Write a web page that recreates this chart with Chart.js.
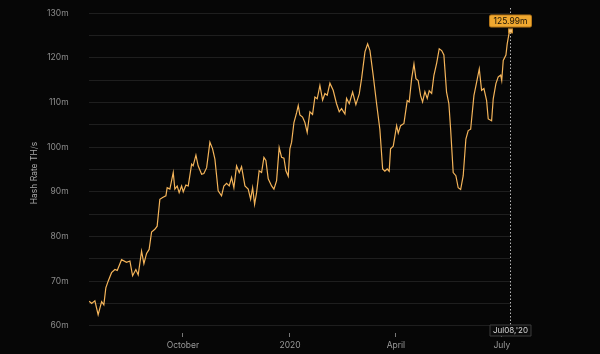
<!DOCTYPE html>
<html>
<head>
<meta charset="utf-8">
<script src="https://cdn.jsdelivr.net/npm/chart.js@4.4.0/dist/chart.umd.min.js"></script>
<style>
html, body { margin: 0; padding: 0; background: #060606; }
</style>
</head>
<body>
<canvas id="myChart" width="600" height="354"></canvas>
<script>
// days since 1 Oct 2019
const dayIndex = [
    -80.5, -78.4, -75.6, -72.8, -69.8, -67.9, -66.2, -64.2, -61.3, -58.4,
    -56.4, -52.7, -48.4, -45.5, -43.2, -40.4, -38.4, -35.5, -33.5, -31.2,
    -29.0, -26.9, -24.1, -22.1, -19.8, -17.4, -14.6, -13.5, -11.2, -8.3,
    -6.9, -4.9, -3.2, -1.1, 0.3, 2.6, 4.6, 7.5, 8.8, 11.2,
    13.1, 16.1, 18.0, 20.4, 23.2, 25.5, 27.5, 30.3, 33.2, 35.2,
    37.5, 39.8, 41.8, 43.8, 46.1, 48.4, 50.4, 53.3, 56.1, 58.2,
    59.9, 61.6, 63.3, 65.5, 67.6, 69.6, 71.3, 73.3, 76.2, 78.2,
    80.5, 82.7, 84.8, 86.8, 88.5, 90.5, 91.9, 93.4, 95.4, 97.7,
    99.1, 100.5, 102.8, 104.8, 106.8, 109.1, 111.4, 113.4, 115.4, 117.7,
    120.0, 122.0, 124.0, 126.3, 129.1, 132.0, 134.3, 136.3, 139.2, 140.6,
    142.9, 145.8, 148.6, 151.5, 153.5, 156.4, 158.7, 160.7, 163.5, 166.4,
    169.2, 171.6, 173.5, 175.5, 177.2, 178.4, 180.7, 183.6, 185.0, 187.0,
    189.9, 192.7, 194.4, 196.5, 198.5, 200.2, 202.1, 204.2, 205.9, 207.9,
    209.9, 211.6, 213.7, 215.6, 218.0, 220.2, 222.3, 224.2, 226.5, 228.5,
    230.0, 232.2, 234.5, 236.5, 238.6, 240.8, 243.1, 245.1, 247.2, 250.0,
    252.3, 254.6, 256.6, 258.6, 260.9, 262.3, 265.2, 266.6, 268.9, 270.9,
    273.0, 273.9, 275.2, 277.5, 278.6, 280.1, 281.0
];

const hashRate = [
    65.5, 65.0, 65.6, 62.5, 65.4, 64.7, 68.5, 70.0, 71.9, 72.6,
    72.4, 74.8, 74.2, 74.5, 71.2, 72.6, 71.4, 76.7, 73.9, 76.2,
    77.1, 81.0, 81.6, 82.3, 88.3, 88.7, 89.1, 90.9, 90.6, 94.3,
    90.6, 91.3, 89.8, 91.3, 90.0, 91.5, 91.3, 96.2, 95.8, 98.2,
    95.8, 93.9, 94.1, 95.4, 101.1, 99.6, 97.3, 90.2, 89.1, 91.3,
    91.9, 91.3, 93.2, 90.9, 95.8, 94.3, 95.6, 91.3, 90.6, 88.3,
    90.9, 87.2, 89.8, 94.7, 94.3, 97.7, 97.0, 92.9, 91.3, 90.6,
    92.5, 99.9, 97.7, 97.5, 94.7, 93.5, 99.6, 101.1, 105.5, 107.7,
    109.3, 107.2, 106.7, 105.5, 103.3, 107.9, 107.3, 111.2, 110.8, 113.8,
    110.5, 112.0, 111.6, 114.3, 112.7, 109.7, 107.9, 108.6, 107.4, 110.9,
    109.7, 112.3, 109.5, 111.9, 115.3, 121.3, 123.1, 121.6, 116.0, 109.7,
    104.0, 95.1, 94.6, 95.1, 94.6, 99.6, 100.2, 104.8, 103.1, 104.8,
    105.3, 110.4, 110.1, 115.3, 118.6, 115.3, 114.9, 111.5, 110.1, 112.4,
    110.9, 112.6, 112.0, 116.0, 118.8, 122.0, 121.6, 120.6, 112.3, 109.7,
    104.0, 94.3, 93.6, 90.9, 90.5, 93.6, 101.8, 103.7, 104.0, 111.5,
    114.5, 117.5, 112.7, 113.1, 110.4, 106.3, 105.9, 110.8, 114.2, 115.7,
    116.1, 114.9, 119.4, 120.6, 123.1, 125.3, 125.99
];

const tickDays = [0, 92, 183, 274];
const tickLabels = ["October", "2020", "April", "July"];
const yTicks = [60, 65, 70, 75, 80, 85, 90, 95, 100, 105, 110, 115, 120, 125, 130];
const lastDateLabel = "Jul08,'20";

const FONT = "Inter, 'Liberation Sans', sans-serif";

// dotted crosshair, value badge and date badge on the last point
const crosshair = {
    id: 'crosshair',
    afterDatasetsDraw(chart) {
        const ctx = chart.ctx;
        const i = hashRate.length - 1;
        const px = Math.round(chart.scales.x.getPixelForValue(dayIndex[i])) + 0.5;
        const py = chart.scales.y.getPixelForValue(hashRate[i]);
        ctx.save();

        ctx.strokeStyle = '#b8b8b8';
        ctx.lineWidth = 1;
        ctx.setLineDash([1.5, 2]);
        ctx.beginPath();
        ctx.moveTo(px, 8);
        ctx.lineTo(px, 326);
        ctx.stroke();
        ctx.setLineDash([]);

        // point marker
        ctx.fillStyle = '#f3c27a';
        ctx.strokeStyle = '#c98a2a';
        ctx.fillRect(px - 2, py - 2, 4, 4);
        ctx.strokeRect(px - 2, py - 2, 4, 4);

        // value badge
        ctx.font = "8.5px " + FONT;
        const txt = hashRate[i].toFixed(2) + 'm';
        const w = ctx.measureText(txt).width + 8;
        ctx.fillStyle = '#f0a830';
        ctx.strokeStyle = '#b9791a';
        ctx.beginPath();
        ctx.roundRect(px - w / 2, 15, w, 12, 1.5);
        ctx.fill();
        ctx.stroke();
        ctx.fillStyle = '#1a1206';
        ctx.textAlign = 'center';
        ctx.textBaseline = 'middle';
        ctx.fillText(txt, px, 21.5);

        // date badge
        ctx.font = "8px " + FONT;
        const w2 = ctx.measureText(lastDateLabel).width + 6;
        ctx.fillStyle = '#0c0c0c';
        ctx.strokeStyle = '#3c3c3c';
        ctx.beginPath();
        ctx.rect(px - w2 / 2, 325, w2, 11);
        ctx.fill();
        ctx.stroke();
        ctx.fillStyle = '#d8d8d8';
        ctx.fillText(lastDateLabel, px, 331);

        ctx.restore();
    }
};

const ctx = document.getElementById('myChart').getContext('2d');
const myChart = new Chart(ctx, {
    type: 'line',
    data: {
        datasets: [{
            data: dayIndex.map((d, i) => ({ x: d, y: hashRate[i] })),
            borderColor: '#f4b45a',
            borderWidth: 1.2,
            pointRadius: 0,
            tension: 0
        }]
    },
    options: {
        responsive: false,
        animation: false,
        devicePixelRatio: 1,
        layout: { padding: { left: 25.6, right: 90, top: 13, bottom: 0 } },
        plugins: { legend: { display: false }, tooltip: { enabled: false } },
        scales: {
            x: {
                type: 'linear',
                min: -81,
                max: 281,
                afterBuildTicks: (scale) => { scale.ticks = tickDays.map(v => ({ value: v })); },
                afterFit: (scale) => { scale.height = 21; },
                grid: { drawOnChartArea: false, drawTicks: true, tickLength: 4, color: '#777' },
                border: { display: false },
                ticks: {
                    autoSkip: false,
                    maxRotation: 0,
                    padding: 3,
                    color: '#9a9a9a',
                    font: { family: FONT, size: 8.5 },
                    callback: (v, i) => tickLabels[i]
                }
            },
            y: {
                min: 58.4,
                max: 130,
                afterBuildTicks: (scale) => { scale.ticks = yTicks.map(v => ({ value: v })); },
                afterFit: (scale) => { scale.width = 63; },
                grid: { drawTicks: true, tickLength: 20, tickColor: 'rgba(0,0,0,0)', color: '#1e1e1e', lineWidth: 1 },
                border: { display: false },
                ticks: {
                    padding: 0,
                    color: '#8c8c8c',
                    font: { family: FONT, size: 8.5 },
                    callback: (v) => (v % 10 === 0 ? v + 'm' : '')
                },
                title: {
                    display: true,
                    text: 'Hash Rate TH/s',
                    color: '#a8a8a8',
                    font: { family: FONT, size: 8.5 },
                    padding: { top: 4, bottom: 4 }
                }
            }
        }
    },
    plugins: [crosshair]
});
</script>
</body>
</html>
